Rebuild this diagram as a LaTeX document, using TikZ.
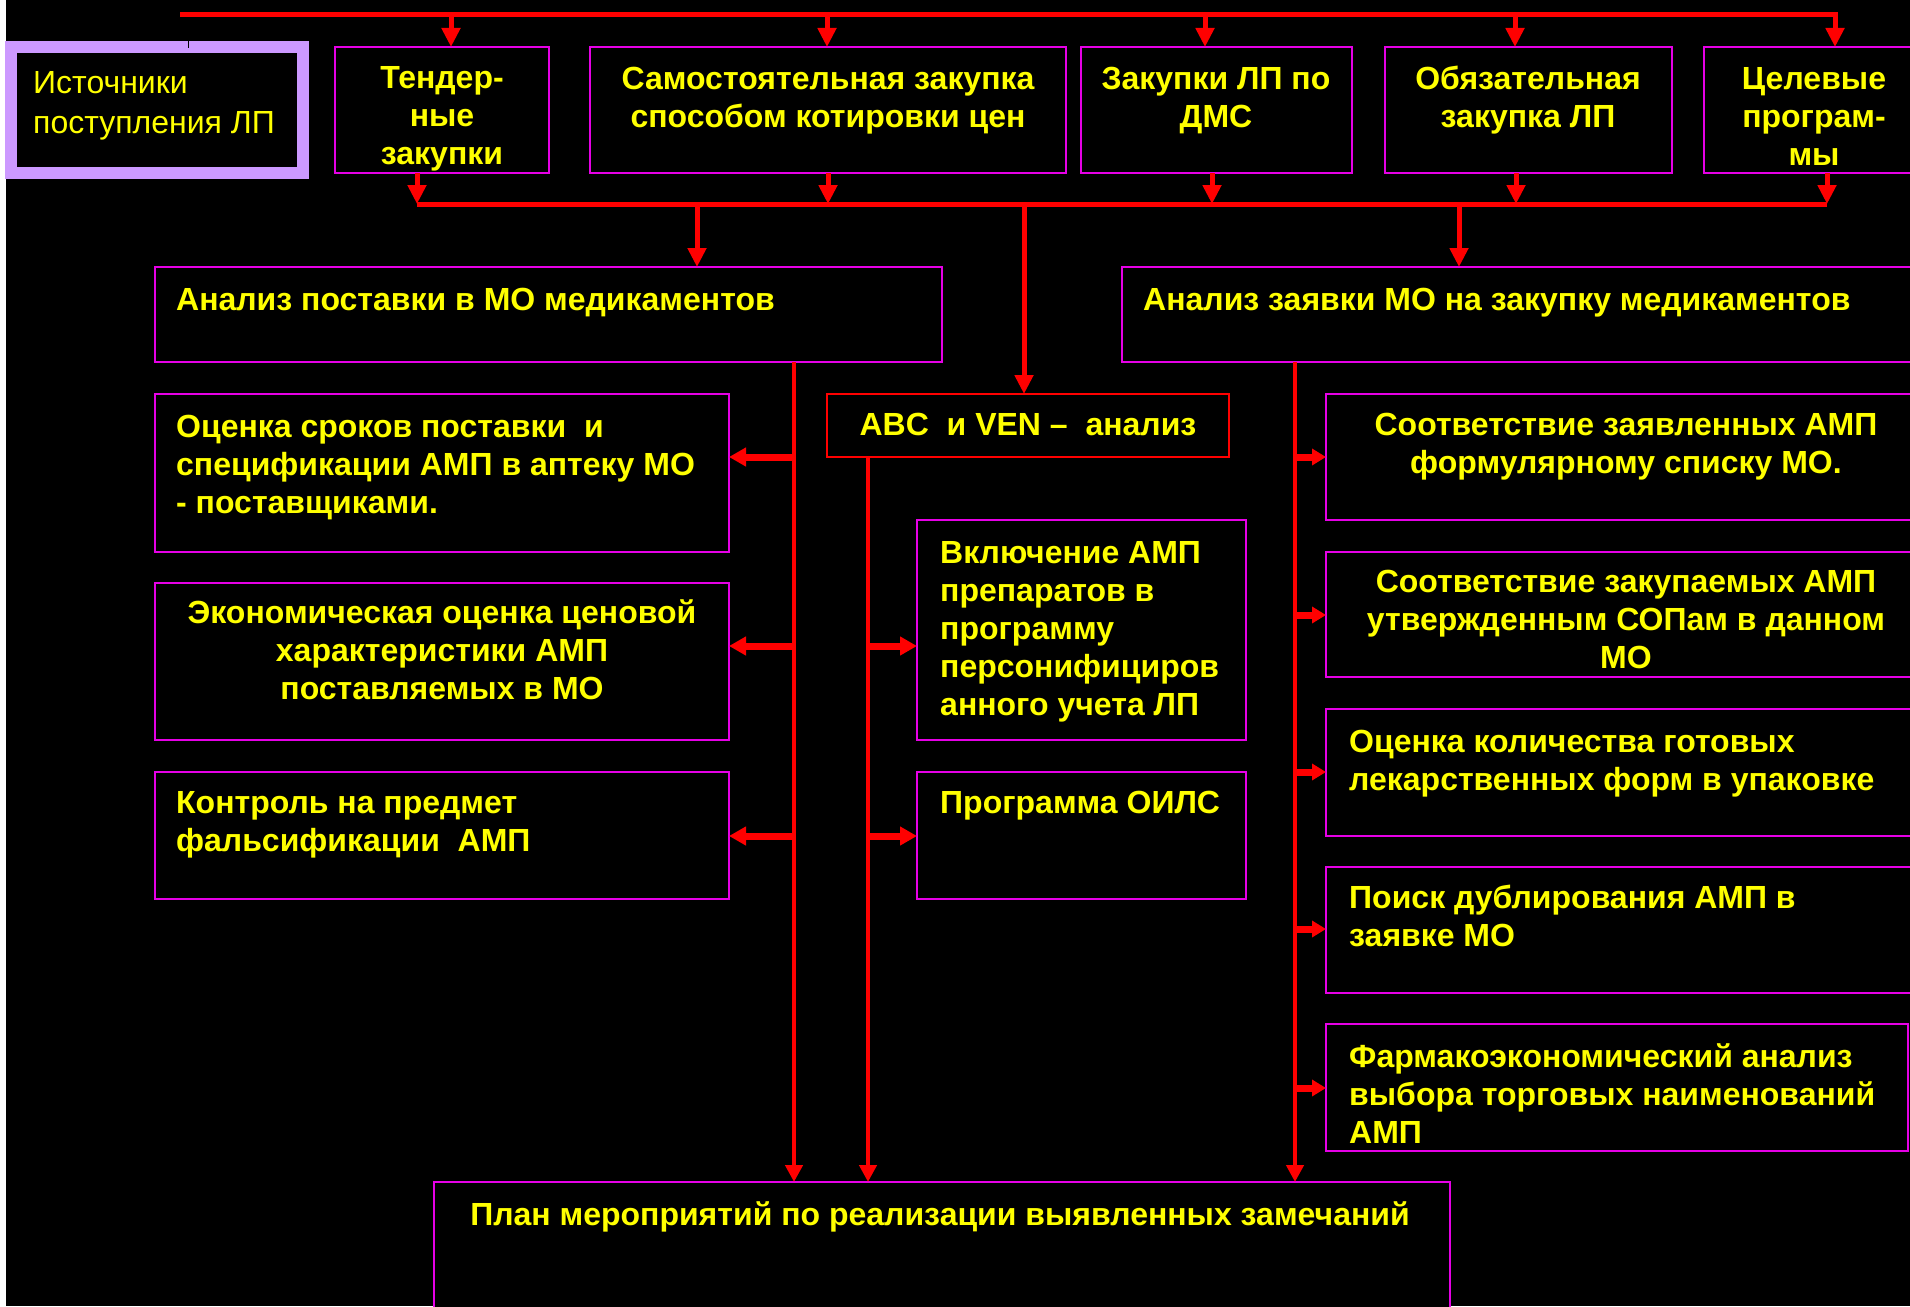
\documentclass[tikz,border=0pt]{standalone}
\usepackage{fontspec}
\setmainfont{Liberation Sans}
\usetikzlibrary{arrows.meta}

\definecolor{boxmag}{RGB}{230,0,230}
\definecolor{lilac}{RGB}{204,153,255}
\definecolor{txtyel}{RGB}{255,255,0}

\tikzset{
    box/.style={draw=boxmag, line width=2pt, fill=black, inner sep=0pt, outer sep=0pt, anchor=north west},
    txt/.style={text=txtyel, inner sep=0pt, font=\fontsize{32}{38}\selectfont\bfseries},
    bus/.style={draw=red, line width=5pt, line join=miter},
    link/.style={bus, -{Triangle[length=19pt,width=18pt]}},
    down/.style={draw=red, line width=4.5pt, -{Triangle[length=17pt,width=17pt]}},
    side/.style={draw=red, line width=7pt, -{Triangle[length=17pt,width=18pt]}}
}

\begin{document}
\begin{tikzpicture}[x=1pt,y=-1pt]
        \useasboundingbox (0,0) rectangle (1910,1306);
        \fill[white] (0,0) rectangle (6,1306);
        \fill[black] (6,0) rectangle (1910,1306);

        % sources (text nodes sit on the baseline of their last line)
        \node[box, draw=lilac, line width=12pt, minimum width=292, minimum height=126] (src) at (11,47) {};
        \draw[black, line width=1pt] (188,41) -- (188,48);
        \node[txt, font=\fontsize{32}{40}\selectfont, anchor=base west, align=left] (srct) at (33,133)
              {Источники\\поступления ЛП};

        \node[box, minimum width=214, minimum height=126] (tend) at (335,47) {};
        \node[txt, anchor=base, align=center] (tendt) at (442,164) {Тендер-\\ные\\закупки};
        \node[box, minimum width=476, minimum height=126] (samo) at (590,47) {};
        \node[txt, anchor=base, align=center] (samot) at (828,127)
              {Самостоятельная закупка\\способом котировки цен};
        \node[box, minimum width=271, minimum height=126] (dms) at (1081,47) {};
        \node[txt, anchor=base, align=center] (dmst) at (1216,127) {Закупки ЛП по\\ДМС};
        \node[box, minimum width=287, minimum height=126] (obyaz) at (1385,47) {};
        \node[txt, anchor=base, align=center] (obyazt) at (1528,127) {Обязательная\\закупка ЛП};
        \node[box, minimum width=220, minimum height=126] (tsel) at (1704,47) {};
        \node[txt, anchor=base, align=center] (tselt) at (1814,165) {Целевые\\програм-\\мы};

        % top and bottom bus
        \coordinate (t0) at (180,15);
        \coordinate (t1) at (451,15);
        \coordinate (t2) at (827,15);
        \coordinate (t3) at (1205,15);
        \coordinate (t4) at (1515,15);
        \coordinate (t5) at (1835,15);
        \draw[link] (t0) -- (t5) -- (t5 |- tsel.north);
        \foreach \t/\b in {t1/tend, t2/samo, t3/dms, t4/obyaz}
            \draw[link] (\t) -- (\t |- \b.north);

        \coordinate (b1) at (417,204);
        \coordinate (b2) at (828,204);
        \coordinate (b3) at (1212,204);
        \coordinate (b4) at (1516,204);
        \coordinate (b5) at (1827,204);
        \draw[bus] (b1) -- (b5);
        \foreach \b/\n in {b1/tend, b2/samo, b3/dms, b4/obyaz, b5/tsel}
            \draw[link] (\b |- \n.south) -- (\b);

        % analysis
        \node[box, minimum width=787, minimum height=95] (anp) at (155,267) {};
        \node[txt, anchor=base west] (anpt) at (176,310) {Анализ поставки в МО медикаментов};
        \node[box, minimum width=810, minimum height=95] (anz) at (1122,267) {};
        \node[txt, anchor=base west] (anzt) at (1143,310) {Анализ заявки МО на закупку медикаментов};
        \node[box, draw=red, minimum width=402, minimum height=63] (abc) at (827,394) {};
        \node[txt, anchor=base] (abct) at (1028,435) {ABC\ \ и VEN –\ \ анализ};

        \coordinate (d1) at (697,204);
        \coordinate (d2) at (1024,204);
        \coordinate (d3) at (1459,204);
        \draw[link] (d1) -- (d1 |- anp.north);
        \draw[link] (d2) -- (d2 |- abc.north);
        \draw[link] (d3) -- (d3 |- anz.north);

        % left column
        \node[box, minimum width=574, minimum height=158] (ocs) at (155,394) {};
        \node[txt, anchor=base west, align=left] (ocst) at (176,513)
              {Оценка сроков поставки\ \ и\\спецификации АМП в аптеку МО\\- поставщиками.};
        \node[box, minimum width=574, minimum height=157] (eco) at (155,583) {};
        \node[txt, anchor=base, align=center] (ecot) at (442,699)
              {Экономическая оценка ценовой\\характеристики АМП\\поставляемых в МО};
        \node[box, minimum width=574, minimum height=127] (kon) at (155,772) {};
        \node[txt, anchor=base west, align=left] (kont) at (176,851)
              {Контроль на предмет\\фальсификации\ \ АМП};

        % middle column
        \node[box, minimum width=329, minimum height=220] (vkl) at (917,520) {};
        \node[txt, anchor=base west, align=left] (vklt) at (940,715)
              {Включение АМП\\препаратов в\\программу\\персонифициров\\анного учета ЛП};
        \node[box, minimum width=329, minimum height=127] (ils) at (917,772) {};
        \node[txt, anchor=base west] (ilst) at (940,813) {Программа ОИЛС};

        % right column
        \node[box, minimum width=600, minimum height=126] (szv) at (1326,394) {};
        \node[txt, anchor=base, align=center] (szvt) at (1626,473)
              {Соответствие заявленных АМП\\формулярному списку МО.};
        \node[box, minimum width=600, minimum height=125] (szk) at (1326,552) {};
        \node[txt, anchor=base, align=center] (szkt) at (1626,668)
              {Соответствие закупаемых АМП\\утвержденным СОПам в данном\\МО};
        \node[box, minimum width=600, minimum height=127] (okl) at (1326,709) {};
        \node[txt, anchor=base west, align=left] (oklt) at (1349,790)
              {Оценка количества готовых\\лекарственных форм в упаковке};
        \node[box, minimum width=600, minimum height=126] (poi) at (1326,867) {};
        \node[txt, anchor=base west, align=left] (poit) at (1349,946)
              {Поиск дублирования АМП в\\заявке МО};
        \node[box, minimum width=582, minimum height=127] (far) at (1326,1024) {};
        \node[txt, anchor=base west, align=left] (fart) at (1349,1143)
              {Фармакоэкономический анализ\\выбора торговых наименований\\АМП};

        % plan
        \node[box, minimum width=1016, minimum height=160] (plan) at (434,1182) {};
        \node[txt, anchor=base] (plant) at (940,1225)
              {План мероприятий по реализации выявленных замечаний};

        % vertical lines down to the plan
        \coordinate (v1) at (794,0);
        \coordinate (v2) at (868,0);
        \coordinate (v3) at (1295,0);
        \draw[down] (v1 |- anp.south) -- (v1 |- plan.north);
        \draw[down] (v2 |- abc.south) -- (v2 |- plan.north);
        \draw[down] (v3 |- anz.south) -- (v3 |- plan.north);

        % side arrows
        \foreach \y/\n in {457/ocs, 646/eco, 836/kon}
            \draw[side] (794,\y) -- (\n.east |- 0,\y);
        \foreach \y/\n in {646/vkl, 836/ils}
            \draw[side] (868,\y) -- (\n.west |- 0,\y);
        \foreach \y/\n in {457/szv, 615/szk, 772/okl, 929/poi, 1088/far}
            \draw[side, -{Triangle[length=14pt,width=16pt]}] (1295,\y) -- (\n.west |- 0,\y);

\end{tikzpicture}
\end{document}
